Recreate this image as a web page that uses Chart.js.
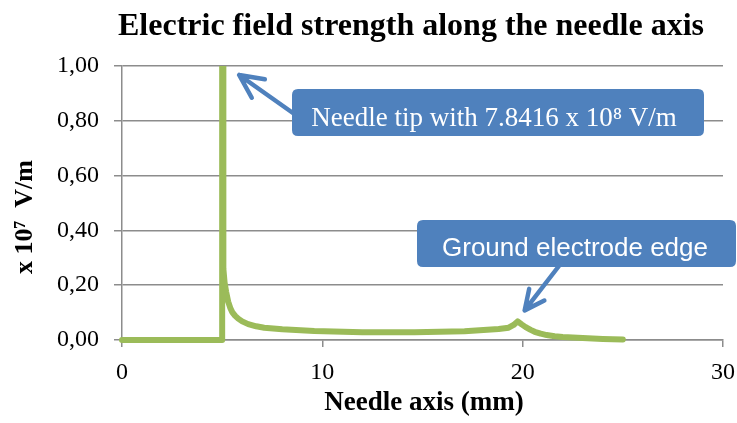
<!DOCTYPE html>
<html>
<head>
<meta charset="utf-8">
<script src="https://cdn.jsdelivr.net/npm/chart.js@4"></script>
<style>
  html, body { margin: 0; padding: 0; background: #ffffff; }
  #wrap { width: 737px; height: 423px; position: relative; }
</style>
</head>
<body>
<div id="wrap"><canvas id="c" width="737" height="423"></canvas></div>
<script>
// ---- data (x in mm, field in units of 10^7 V/m) ----
const positionsMm = [0, 5, 5, 5.06, 5.12, 5.2, 5.3, 5.4, 5.5, 5.65, 5.8, 6.0, 6.3, 6.7, 7.1, 8, 9.6, 12, 14.6, 17.1, 18.8, 19.3, 19.55, 19.75, 19.95, 20.15, 20.4, 20.6, 20.9, 21.2, 21.6, 22, 23, 24, 25];
const fieldValues = [0, 0, 78.416, 0.26, 0.21, 0.175, 0.14, 0.118, 0.102, 0.088, 0.078, 0.068, 0.058, 0.05, 0.045, 0.039, 0.033, 0.028, 0.028, 0.032, 0.04, 0.045, 0.055, 0.068, 0.057, 0.047, 0.037, 0.03, 0.023, 0.018, 0.014, 0.011, 0.007, 0.004, 0.002];
const xTicks = [0, 10, 20, 30];
const yTicks = [0, 0.2, 0.4, 0.6, 0.8, 1.0];

const chartTitle = 'Electric field strength along the needle axis';
const xAxisTitle = 'Needle axis (mm)';
const yAxisTitle = 'x 10\u2077  V/m';
const tipLabel = 'Needle tip with 7.8416 x 10\u2078 V/m';
const edgeLabel = 'Ground electrode edge';

const SERIF = "'Liberation Serif', 'Times New Roman', serif";
const SANS = "'Liberation Sans', Arial, sans-serif";
const GRID = '#8c8c8c';
const CALLOUT = '#4f81bd';

function roundRect(ctx, x, y, w, h, r) {
  ctx.beginPath();
  ctx.moveTo(x + r, y);
  ctx.lineTo(x + w - r, y);
  ctx.quadraticCurveTo(x + w, y, x + w, y + r);
  ctx.lineTo(x + w, y + h - r);
  ctx.quadraticCurveTo(x + w, y + h, x + w - r, y + h);
  ctx.lineTo(x + r, y + h);
  ctx.quadraticCurveTo(x, y + h, x, y + h - r);
  ctx.lineTo(x, y + r);
  ctx.quadraticCurveTo(x, y, x + r, y);
  ctx.closePath();
}

function arrow(ctx, x0, y0, x1, y1, head) {
  ctx.save();
  ctx.strokeStyle = CALLOUT;
  ctx.lineWidth = 4.5;
  ctx.lineCap = 'round';
  ctx.lineJoin = 'round';
  ctx.beginPath();
  ctx.moveTo(x0, y0);
  ctx.lineTo(x1, y1);
  const a = Math.atan2(y0 - y1, x0 - x1);
  const s = 0.45;
  ctx.moveTo(x1 + head * Math.cos(a + s), y1 + head * Math.sin(a + s));
  ctx.lineTo(x1, y1);
  ctx.lineTo(x1 + head * Math.cos(a - s), y1 + head * Math.sin(a - s));
  ctx.stroke();
  ctx.restore();
}

const decorations = {
  id: 'decorations',
  afterDraw(chart) {
    const ctx = chart.ctx;
    const xs = chart.scales.x, ys = chart.scales.y;
    ctx.save();
    // title
    ctx.fillStyle = '#000';
    ctx.textAlign = 'center';
    ctx.textBaseline = 'alphabetic';
    ctx.font = 'bold 32px ' + SERIF;
    ctx.fillText(chartTitle, 411, 35);
    // x axis title
    ctx.font = 'bold 27px ' + SERIF;
    ctx.fillText(xAxisTitle, 424, 410);
    // y axis title
    ctx.save();
    ctx.translate(32, 217);
    ctx.rotate(-Math.PI / 2);
    ctx.font = 'bold 26px ' + SERIF;
    ctx.fillText(yAxisTitle, 0, 0);
    ctx.restore();

    // callout 1: needle tip
    const tipX = xs.getPixelForValue(5), topY = ys.getPixelForValue(1);
    arrow(ctx, 300, 118, tipX + 17, topY + 9, 26);
    ctx.fillStyle = CALLOUT;
    roundRect(ctx, 292, 89, 412, 47, 6);
    ctx.fill();
    ctx.fillStyle = '#fff';
    ctx.font = '27px ' + SERIF;
    ctx.fillText(tipLabel, 494, 126);

    // callout 2: ground electrode edge
    const edgeX = xs.getPixelForValue(19.75), edgeY = ys.getPixelForValue(0.068);
    arrow(ctx, 562, 262, edgeX + 7, edgeY - 11, 22);
    ctx.fillStyle = CALLOUT;
    roundRect(ctx, 417, 220, 319, 47, 6);
    ctx.fill();
    ctx.fillStyle = '#fff';
    ctx.font = '26px ' + SANS;
    ctx.fillText(edgeLabel, 575, 256);
    ctx.restore();
  }
};

const bg = {
  id: 'bg',
  beforeDraw(chart) {
    const ctx = chart.ctx;
    ctx.save();
    ctx.fillStyle = '#fff';
    ctx.fillRect(0, 0, chart.width, chart.height);
    ctx.restore();
  }
};

new Chart(document.getElementById('c'), {
  type: 'line',
  data: {
    datasets: [{
      data: positionsMm.map((x, i) => ({ x: x, y: fieldValues[i] })),
      borderColor: '#9bbb59',
      borderWidth: 6,
      pointRadius: 0,
      tension: 0,
      borderJoinStyle: 'round',
      borderCapStyle: 'round',
      fill: false,
      clip: { left: 5, right: 5, top: 0, bottom: 5 }
    }]
  },
  options: {
    responsive: false,
    animation: false,
    events: [],
    layout: { padding: { left: 0, top: 66, right: 14, bottom: 0 } },
    plugins: { legend: { display: false }, tooltip: { enabled: false }, title: { display: false } },
    scales: {
      x: {
        type: 'linear',
        min: 0, max: 30,
        afterFit(s) { s.height = 83; s.paddingLeft = 0; s.paddingRight = 0; },
        afterBuildTicks(s) { s.ticks = xTicks.map(v => ({ value: v })); },
        ticks: {
          font: { family: SERIF, size: 24 },
          color: '#000',
          padding: 11,
          maxRotation: 0,
          callback: v => String(v)
        },
        grid: { drawOnChartArea: false, drawTicks: true, tickLength: 7, color: GRID, lineWidth: 1.5 },
        border: { display: true, color: GRID, width: 1.5 }
      },
      y: {
        min: 0, max: 1,
        afterFit(s) { s.width = 122; s.paddingTop = 0; s.paddingBottom = 0; },
        afterBuildTicks(s) { s.ticks = yTicks.map(v => ({ value: v })); },
        ticks: {
          font: { family: SERIF, size: 24 },
          color: '#000',
          padding: 15,
          callback: v => v.toFixed(2).replace('.', ',')
        },
        grid: { drawTicks: true, tickLength: 8, color: GRID, lineWidth: 1.5 },
        border: { display: true, color: GRID, width: 1.5 }
      }
    }
  },
  plugins: [bg, decorations]
});
</script>
</body>
</html>
